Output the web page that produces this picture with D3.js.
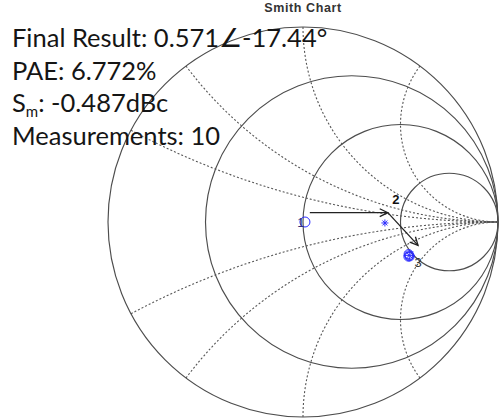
<!DOCTYPE html>
<html>
<head>
<meta charset="utf-8">
<script src="https://cdn.jsdelivr.net/npm/d3@7"></script>
<style>
  html, body { margin: 0; padding: 0; background: #fff; }
  svg { display: block; }
</style>
</head>
<body>
<svg id="chart" width="500" height="420"></svg>
<script>
// Smith chart grid values (normalised impedance)
const resistanceValues = [1 / 3, 1, 3];
const reactanceValues = [0.25, 0.5, 1, 2, -0.25, -0.5, -1, -2];

// Tuning steps as reflection coefficients (real, imaginary)
const stepIds = ["1", "2", "3"];
const stepRe = [0.01, 0.42];
const stepIm = [0.0, -0.005];

// Final result: |Γ| and angle in degrees
const finalMag = 0.571;
const finalAngleDeg = -17.44;

// Repeated measurements around the final point
const clusterMag = [0.571, 0.566, 0.575, 0.569];
const clusterAngleDeg = [-17.44, -16.9, -17.9, -18.2];

// Step arrows (Γ real / imaginary of tail and head)
const arrowFromRe = [0.035, 0.435];
const arrowFromIm = [0.048, 0.048];
const arrowToRe = [0.435, 0.59];
const arrowToIm = [0.048, -0.12];

// Result annotation
const infoLines = [
  { main: "Final Result: 0.571\u2220-17.44\u00B0" },
  { main: "PAE: 6.772%" },
  { main: "S", sub: "m", tail: ": -0.487dBc" },
  { main: "Measurements: 10" }
];
const chartTitle = "Smith Chart";

const svg = d3.select("#chart");
const cx = 303, cy = 222, R = 195;

const x = d3.scaleLinear().domain([-1, 1]).range([cx - R, cx + R]);
const y = d3.scaleLinear().domain([-1, 1]).range([cy + R, cy - R]);

const gridColor = "#4d4d4d";
const dotColor = "#555";
const markColor = "#2b2bff";

// Γ from normalised impedance z = r + jx
function gamma(r, xx) {
  if (!isFinite(r)) return [1, 0];
  const d = (r + 1) * (r + 1) + xx * xx;
  return [(r * r - 1 + xx * xx) / d, (2 * xx) / d];
}

const grid = svg.append("g");

// outer |Γ| = 1 boundary
grid.append("circle")
  .attr("cx", x(0)).attr("cy", y(0))
  .attr("r", x(1) - x(0))
  .attr("fill", "none").attr("stroke", gridColor).attr("stroke-width", 1.15);

// constant resistance circles
grid.selectAll("circle.res")
  .data(resistanceValues)
  .join("circle")
  .attr("class", "res")
  .attr("cx", d => x(d / (d + 1)))
  .attr("cy", y(0))
  .attr("r", d => x(1 / (d + 1)) - x(0))
  .attr("fill", "none")
  .attr("stroke", gridColor)
  .attr("stroke-width", 1.15);

// constant reactance arcs (dotted), traced from r = 0 to r = ∞
const tSteps = d3.range(0, 1, 0.002).concat([1]);
const arcLine = d3.line().x(p => x(p[0])).y(p => y(p[1])).curve(d3.curveLinear);
grid.selectAll("path.react")
  .data(reactanceValues)
  .join("path")
  .attr("class", "react")
  .attr("d", xv => arcLine(tSteps.map(t => gamma(t >= 1 ? Infinity : t / (1 - t), xv))))
  .attr("fill", "none")
  .attr("stroke", dotColor)
  .attr("stroke-width", 1.1)
  .attr("stroke-dasharray", "2,2");

// title
svg.append("text")
  .attr("x", x(0))
  .attr("y", 12)
  .attr("text-anchor", "middle")
  .attr("font-family", "'Liberation Sans', Arial, sans-serif")
  .attr("font-size", 12.5)
  .attr("font-weight", "bold")
  .attr("letter-spacing", 0.6)
  .attr("fill", "#333")
  .text(chartTitle);

// step arrows
const arrows = svg.append("g").attr("stroke", "#222").attr("stroke-width", 1.3).attr("fill", "none");
arrowFromRe.forEach((_, i) => {
  const x0 = x(arrowFromRe[i]), y0 = y(arrowFromIm[i]);
  const x1 = x(arrowToRe[i]), y1 = y(arrowToIm[i]);
  arrows.append("line").attr("x1", x0).attr("y1", y0).attr("x2", x1).attr("y2", y1);
  const a = Math.atan2(y1 - y0, x1 - x0);
  const L = 9, spread = 0.45;
  const p = [
    [x1 - L * Math.cos(a - spread), y1 - L * Math.sin(a - spread)],
    [x1, y1],
    [x1 - L * Math.cos(a + spread), y1 - L * Math.sin(a + spread)]
  ];
  arrows.append("path").attr("d", d3.line()(p));
});

// asterisk marker
function asterisk(g, px, py, s) {
  const m = g.append("g").attr("stroke", markColor).attr("stroke-width", 1).attr("fill", "none");
  m.append("line").attr("x1", px - s).attr("x2", px + s).attr("y1", py).attr("y2", py);
  m.append("line").attr("x1", px).attr("x2", px).attr("y1", py - s).attr("y2", py + s);
  const k = s * 0.7;
  m.append("line").attr("x1", px - k).attr("x2", px + k).attr("y1", py - k).attr("y2", py + k);
  m.append("line").attr("x1", px - k).attr("x2", px + k).attr("y1", py + k).attr("y2", py - k);
}

const marks = svg.append("g");

// step 1: circle marker
marks.append("circle")
  .attr("cx", x(stepRe[0])).attr("cy", y(stepIm[0])).attr("r", 5)
  .attr("fill", "none").attr("stroke", markColor).attr("stroke-width", 1);
// step 2: asterisk marker
asterisk(marks, x(stepRe[1]), y(stepIm[1]), 3.5);

// final cluster: circles plus asterisks
const rad = Math.PI / 180;
clusterMag.forEach((m, i) => {
  const gx = x(m * Math.cos(clusterAngleDeg[i] * rad));
  const gy = y(m * Math.sin(clusterAngleDeg[i] * rad));
  marks.append("circle").attr("cx", gx).attr("cy", gy).attr("r", 4.5)
    .attr("fill", "none").attr("stroke", markColor).attr("stroke-width", 1);
});
const fx = x(finalMag * Math.cos(finalAngleDeg * rad));
const fy = y(finalMag * Math.sin(finalAngleDeg * rad));
asterisk(marks, fx, fy, 5.5);

// step labels
const labelFont = "'Liberation Sans', Arial, sans-serif";
svg.append("text").attr("x", x(stepRe[0]) - 4).attr("y", y(stepIm[0]) + 5)
  .attr("text-anchor", "middle").attr("font-family", labelFont).attr("font-size", 13)
  .attr("fill", "#30307a").text(stepIds[0]);
svg.append("text").attr("x", x(stepRe[1]) + 11).attr("y", y(stepIm[1]) - 19)
  .attr("text-anchor", "middle").attr("font-family", labelFont).attr("font-size", 13)
  .attr("font-weight", "bold").attr("fill", "#111").text(stepIds[1]);
svg.append("text").attr("x", fx + 9).attr("y", fy + 12)
  .attr("text-anchor", "middle").attr("font-family", labelFont).attr("font-size", 13)
  .attr("fill", "#333").text(stepIds[2]);

// annotation block
const info = svg.append("g")
  .attr("font-family", "Lato, 'Open Sans', sans-serif")
  .attr("font-size", 25.5)
  .attr("fill", "#151515");
infoLines.forEach((ln, i) => {
  const t = info.append("text").attr("x", 12).attr("y", 47 + i * 32.7);
  t.append("tspan").text(ln.main);
  if (ln.sub) {
    t.append("tspan").attr("font-size", 15).attr("dy", 5).text(ln.sub);
    t.append("tspan").attr("dy", -5).text(ln.tail);
  }
});
</script>
</body>
</html>
